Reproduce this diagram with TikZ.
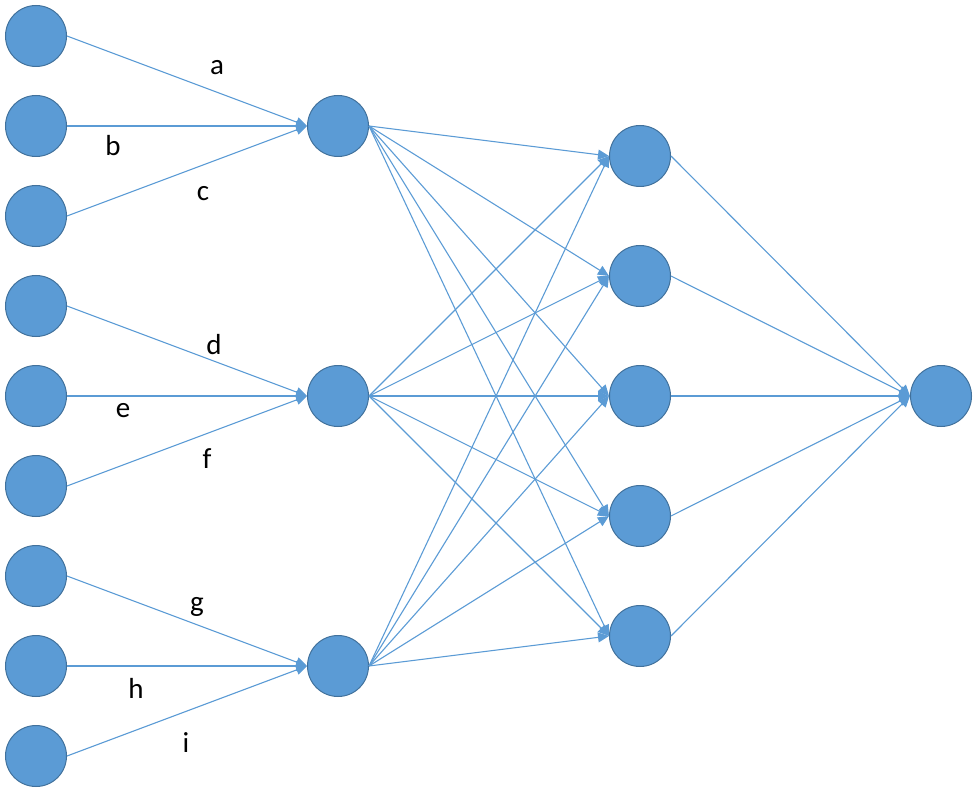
\documentclass[tikz,border=0pt]{standalone}
\usepackage{fontspec}
\setmainfont{Carlito}
\usetikzlibrary{arrows.meta}
\definecolor{cellfill}{HTML}{5B9BD5}
\definecolor{celledge}{HTML}{41719C}
\tikzset{
	cell/.style={circle,fill=cellfill,draw=celledge,line width=1pt,minimum size=61pt,inner sep=0pt},
	wire/.style={color=cellfill,line width=1.1pt,-{Triangle[length=11pt,width=10pt]}},
	weight/.style={font=\fontsize{29}{31}\selectfont}
}
\begin{document}
\begin{tikzpicture}[x=1pt,y=-1pt]
	\useasboundingbox (0,0) rectangle (976,794);
	\node[cell] at (36,36) (in1) {};
	\node[cell] at (36,126) (in2) {};
	\node[cell] at (36,216) (in3) {};
	\node[cell] at (36,306) (in4) {};
	\node[cell] at (36,396) (in5) {};
	\node[cell] at (36,486) (in6) {};
	\node[cell] at (36,576) (in7) {};
	\node[cell] at (36,666) (in8) {};
	\node[cell] at (36,756) (in9) {};
	\node[cell] at (338,126) (h1) {};
	\node[cell] at (338,396) (h2) {};
	\node[cell] at (338,666) (h3) {};
	\node[cell] at (640,156) (k1) {};
	\node[cell] at (640,276) (k2) {};
	\node[cell] at (640,396) (k3) {};
	\node[cell] at (640,516) (k4) {};
	\node[cell] at (640,636) (k5) {};
	\node[cell] at (941,396) (out) {};
	\node[weight] at (217,68) (a) {a};
	\node[weight] at (113,146) (b) {b};
	\node[weight] at (203,194) (c) {c};
	\node[weight] at (214,345) (d) {d};
	\node[weight] at (123,411) (e) {e};
	\node[weight] at (207,459) (f) {f};
	\node[weight] at (197,607) (g) {g};
	\node[weight] at (136,688) (h) {h};
	\node[weight] at (186,743) (i) {i};
	\path[wire] (in1.east) edge (h1.west)
	(in2.east) edge (h1.west)
	(in3.east) edge (h1.west)
	(in4.east) edge (h2.west)
	(in5.east) edge (h2.west)
	(in6.east) edge (h2.west)
	(in7.east) edge (h3.west)
	(in8.east) edge (h3.west)
	(in9.east) edge (h3.west);
	\path[wire] (h1.east) edge (k1.west)
	(h1.east) edge (k2.west)
	(h1.east) edge (k3.west)
	(h1.east) edge (k4.west)
	(h1.east) edge (k5.west)
	(h2.east) edge (k1.west)
	(h2.east) edge (k2.west)
	(h2.east) edge (k3.west)
	(h2.east) edge (k4.west)
	(h2.east) edge (k5.west)
	(h3.east) edge (k1.west)
	(h3.east) edge (k2.west)
	(h3.east) edge (k3.west)
	(h3.east) edge (k4.west)
	(h3.east) edge (k5.west);
	\path[wire] (k1.east) edge (out.west)
	(k2.east) edge (out.west)
	(k3.east) edge (out.west)
	(k4.east) edge (out.west)
	(k5.east) edge (out.west);
\end{tikzpicture}
\end{document}
